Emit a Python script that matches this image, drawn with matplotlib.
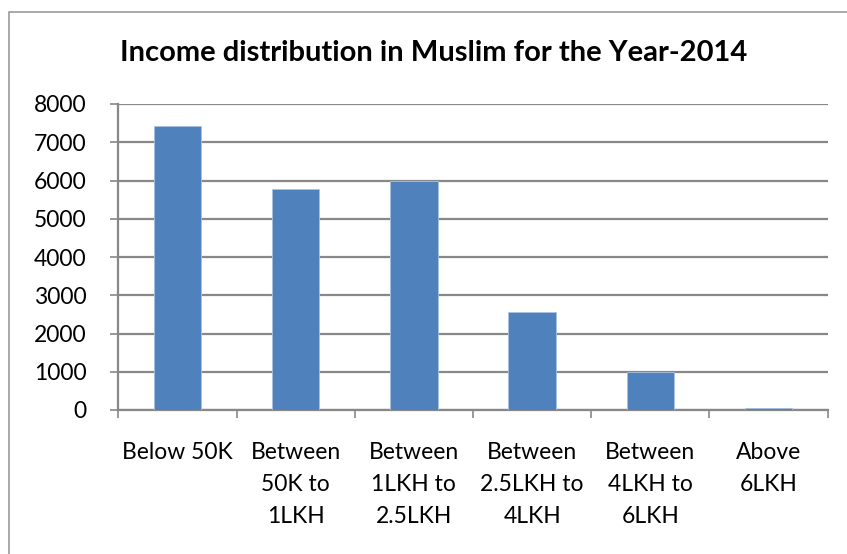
import matplotlib
matplotlib.use("Agg")
import matplotlib.pyplot as plt
from matplotlib.patches import Rectangle

categories = [
    "Below 50K",
    "Between\n50K to\n1LKH",
    "Between\n1LKH to\n2.5LKH",
    "Between\n2.5LKH to\n4LKH",
    "Between\n4LKH to\n6LKH",
    "Above\n6LKH",
]
households = [7430, 5770, 6000, 2550, 990, 40]
y_ticks = [0, 1000, 2000, 3000, 4000, 5000, 6000, 7000, 8000]
title = "Income distribution in Muslim for the Year-2014"

W, H = 847, 554
fig = plt.figure(figsize=(W / 100, H / 100), dpi=100)
fig.patch.set_facecolor("white")

# outer chart frame (only top and left edges fall inside the image)
fig.patches.append(Rectangle((8.5 / W, -0.2), 1.5, 1 - 11.7 / H + 0.2,
                             transform=fig.transFigure, fill=False,
                             edgecolor="#9a9a9a", linewidth=1.2))

left, right = 118.3 / W, 827.7 / W
bottom, top = 1 - 410 / H, 1 - 104 / H
ax = fig.add_axes([left, bottom, right - left, top - bottom])

grid_col = "#888888"
x = list(range(len(categories)))
ax.bar(x, households, width=0.4, color="#4F81BD", edgecolor="#a9c1e0",
       linewidth=0.6, zorder=3)

ax.set_xlim(-0.5, len(categories) - 0.5)
ax.set_ylim(0, 8000)
ax.set_yticks(y_ticks)
ax.set_yticklabels([str(v) for v in y_ticks], fontfamily="Lato", fontsize=16.5)
ax.yaxis.grid(True, color=grid_col, linewidth=1.6, zorder=0)
ax.set_axisbelow(True)

# category boundaries get tick marks, centres get labels
ax.set_xticks([i - 0.5 for i in range(len(categories) + 1)])
ax.set_xticklabels([])
ax.set_xticks(x, minor=True)
ax.set_xticklabels(categories, minor=True, fontfamily="Lato", fontsize=16.5,
                   linespacing=1.65, ha="center", va="top")
ax.tick_params(axis="x", which="minor", length=0, pad=23)
ax.tick_params(axis="x", which="major", length=6, width=1.2, color=grid_col,
               direction="out")
ax.tick_params(axis="y", which="major", length=6, width=1.2, color=grid_col,
               direction="out", pad=17)

for side in ("top", "right"):
    ax.spines[side].set_visible(False)
for side in ("left", "bottom"):
    ax.spines[side].set_color(grid_col)
    ax.spines[side].set_linewidth(1.6)

fig.text(434 / W, 1 - 53 / H, title, fontfamily="Lato", fontweight="bold",
         fontsize=21, ha="center", va="center")

fig.savefig("out.png", dpi=100)
